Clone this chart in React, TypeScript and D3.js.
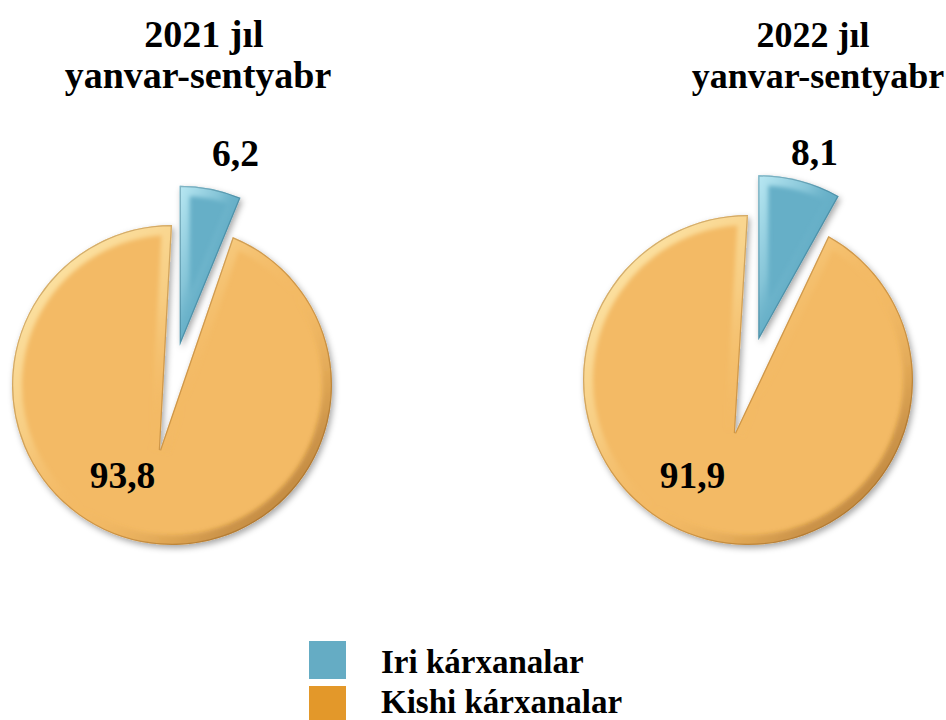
import React from "react";
import * as d3 from "d3";

const titleYears = ["2021 jıl", "2022 jıl"];
const titlePeriod = "yanvar-sentyabr";
const categories = ["Iri kárxanalar", "Kishi kárxanalar"];
const values2021 = [6.2, 93.8];
const values2022 = [8.1, 91.9];

const seriesValues = [values2021, values2022];

const W = 946;
const H = 720;

const sliceBase = ["#66AFC7", "#F3BA65"];
const legendColors = ["#65ACC4", "#E3982A"];
const bevelLight = ["#BDEBF5", "#FFF0B8"];
const bevelDark = ["#1F5A70", "#8A5312"];

// layout for each pie (positions only)
const layouts = [
  {
    cx: 172, cy: 385, r: 160, apexDx: -12, apexDy: 65, explode: 40,
    titleX: 198, titleX1: 204, titleSize: 38, titleY1: 47, titleY2: 88,
    labels: [[235.5, 166], [122.5, 488]],
  },
  {
    cx: 748, cy: 380, r: 165, apexDx: -13, apexDy: 53, explode: 41,
    titleX: 818, titleX1: 813, titleSize: 36, titleY1: 47, titleY2: 88,
    labels: [[814.5, 165], [692.5, 488]],
  },
];

const fmt = (v: number) => d3.format(".1f")(v).replace(".", ",");

function slicePath(cx: number, cy: number, r: number, a0: number, a1: number, ax: number, ay: number) {
  const p = d3.path();
  p.moveTo(ax, ay);
  p.lineTo(cx + r * Math.sin(a0), cy - r * Math.cos(a0));
  p.arc(cx, cy, r, a0 - Math.PI / 2, a1 - Math.PI / 2, false);
  p.closePath();
  return p.toString();
}

export default function App() {
  const pie = d3.pie<number>().sort(null).value((d) => d).startAngle(0).endAngle(2 * Math.PI);

  return (
    <svg width={W} height={H} style={{ position: "absolute", left: 0, top: 0, background: "#fff" }}
      fontFamily="'Liberation Serif', 'Times New Roman', serif">
      <defs>
        <filter id="shadow" x="-20%" y="-20%" width="140%" height="140%">
          <feDropShadow dx="2" dy="3" stdDeviation="3" floodColor="#000" floodOpacity="0.35" />
        </filter>
        <filter id="soft" x="-10%" y="-10%" width="120%" height="120%">
          <feGaussianBlur stdDeviation="2.2" />
        </filter>
        {[0, 1].map((i) => (
          <linearGradient key={"bg" + i} id={"bevel" + i} x1="0" y1="0" x2="1" y2="1">
            <stop offset="0" stopColor={bevelLight[i]} stopOpacity="0.95" />
            <stop offset="0.35" stopColor={bevelLight[i]} stopOpacity="0.35" />
            <stop offset="0.55" stopColor={sliceBase[i]} stopOpacity="0" />
            <stop offset="0.8" stopColor={bevelDark[i]} stopOpacity="0.35" />
            <stop offset="1" stopColor={bevelDark[i]} stopOpacity="0.7" />
          </linearGradient>
        ))}
      </defs>

      {layouts.map((L, ci) => {
        const arcs = pie(seriesValues[ci]);
        return (
          <g key={ci}>
            <text x={L.titleX1} y={L.titleY1} textAnchor="middle" fontWeight="bold" fontSize={L.titleSize}>
              {titleYears[ci]}
            </text>
            <text x={L.titleX} y={L.titleY2} textAnchor="middle" fontWeight="bold" fontSize={L.titleSize}>
              {titlePeriod}
            </text>
            {arcs.map((a, si) => {
              const mid = (a.startAngle + a.endAngle) / 2;
              let cx = L.cx, cy = L.cy, ax = L.cx + L.apexDx, ay = L.cy + L.apexDy;
              if (si === 0) {
                cx = L.cx + L.explode * Math.sin(mid);
                cy = L.cy - L.explode * Math.cos(mid);
                ax = cx;
                ay = cy;
              }
              const d = slicePath(cx, cy, L.r, a.startAngle, a.endAngle, ax, ay);
              const clipId = `clip-${ci}-${si}`;
              return (
                <g key={si}>
                  <clipPath id={clipId}>
                    <path d={d} />
                  </clipPath>
                  <path d={d} fill={sliceBase[si]} filter="url(#shadow)" />
                  <g clipPath={`url(#${clipId})`}>
                    <path d={d} fill="none" stroke={`url(#bevel${si})`} strokeWidth={20} filter="url(#soft)" />
                    <path d={d} fill="none" stroke={bevelDark[si]} strokeOpacity={0.35} strokeWidth={2.5} />
                  </g>
                </g>
              );
            })}
            {arcs.map((a, si) => (
              <text key={"l" + si} x={L.labels[si][0]} y={L.labels[si][1]} textAnchor="middle"
                fontWeight="bold" fontSize={37.5} fill="#000">
                {fmt(a.data)}
              </text>
            ))}
          </g>
        );
      })}

      {categories.map((c, i) => (
        <g key={c}>
          <rect x={309} y={641 + i * 45} width={37} height={38} fill={legendColors[i]} />
          <text x={381} y={673 + i * 40} fontWeight="bold" fontSize={33}>{c}</text>
        </g>
      ))}
    </svg>
  );
}
